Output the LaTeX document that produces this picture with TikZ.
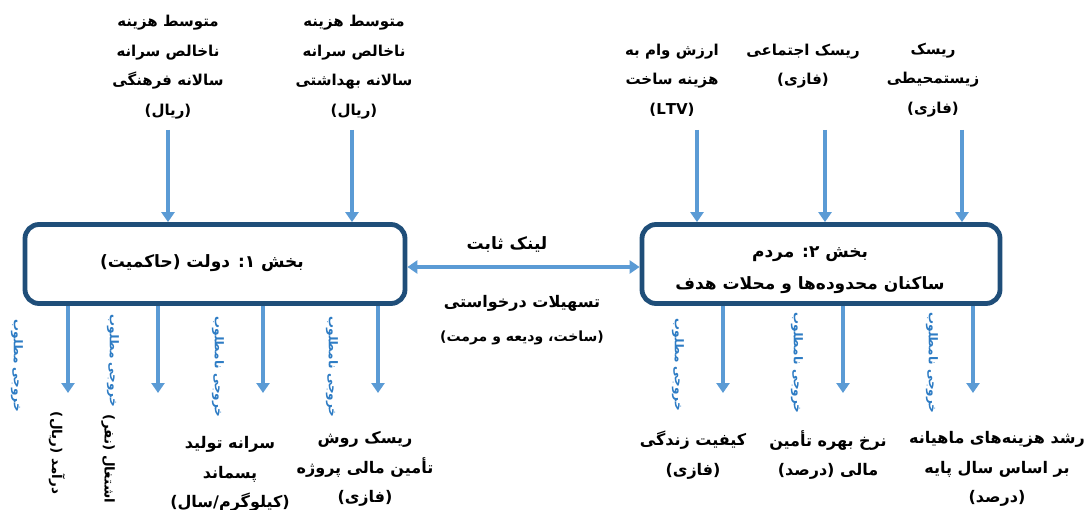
\documentclass[tikz,border=0pt]{standalone}
\usepackage{fontspec}
\TeXXeTstate=1
\newfontfamily\fa[Script=Arabic]{DejaVu Sans}
\usetikzlibrary{arrows.meta}
\newcommand\rl[1]{\beginR #1\endR}
\definecolor{boxc}{HTML}{1F4E79}
\definecolor{arrc}{HTML}{5B9BD5}
\definecolor{labc}{HTML}{2E7CC4}
\begin{document}
\begin{tikzpicture}[x=1pt,y=-1pt,
  sector/.style={draw=boxc, line width=4.8pt, rounded corners=14pt, fill=white, inner sep=0pt},
  stxt/.style={font=\fa\bfseries\fontsize{17}{32}\selectfont, align=center, inner sep=0pt},
  txt/.style={font=\fa\bfseries\fontsize{15}{29.5}\selectfont, align=center, inner sep=0pt},
  btxt/.style={txt, font=\fa\bfseries\fontsize{16}{29.5}\selectfont},
  rtxt/.style={txt, font=\fa\bfseries\fontsize{13.5}{16}\selectfont, rotate=-90},
  lab/.style={font=\fa\bfseries\fontsize{12}{14}\selectfont, text=labc, rotate=-90, inner sep=0pt},
  arr/.style={draw=arrc, line width=3.2pt, -{Triangle[width=13pt,length=10pt]}},
  darr/.style={draw=arrc, line width=3.2pt, {Triangle[width=13pt,length=10pt]}-{Triangle[width=13pt,length=10pt]}}]
\useasboundingbox (0,0) rectangle (1086,510);
% sectors
\node[sector, minimum width=380pt, minimum height=79pt] (gov) at (215,264) {};
\node[stxt] (govt) at (202,263) {\rl{بخش ۱: دولت (حاکمیت)}};
\node[sector, minimum width=358pt, minimum height=79pt] (ppl) at (821,264) {};
\node[stxt] (pplt) at (810,270) {\rl{بخش ۲: مردم}\\\rl{ساکنان محدوده^^^^200cها و محلات هدف}};
% link
\draw[darr] ([yshift=-3pt]gov.east) -- ([yshift=-3pt]ppl.west);
\node[txt, font=\fa\bfseries\fontsize{17}{20}\selectfont] (link) at (507,245) {\rl{لینک ثابت}};
\node[txt, font=\fa\bfseries\fontsize{16}{20}\selectfont] (fac) at (522,303) {\rl{تسهیلات درخواستی}};
\node[txt, font=\fa\bfseries\fontsize{14}{17}\selectfont] (fac2) at (522,338) {\rl{(ساخت، ودیعه و مرمت)}};
% top inputs
\node[txt] (i1) at (168,67) {\rl{متوسط هزینه}\\\rl{ناخالص سرانه}\\\rl{سالانه فرهنگی}\\\rl{(ریال)}};
\node[txt] (i2) at (354,67) {\rl{متوسط هزینه}\\\rl{ناخالص سرانه}\\\rl{سالانه بهداشتی}\\\rl{(ریال)}};
\node[txt] (i3) at (672,80) {\rl{ارزش وام به}\\\rl{هزینه ساخت}\\(LTV)};
\node[txt] (i4) at (803,66) {\rl{ریسک اجتماعی}\\\rl{(فازی)}};
\node[txt] (i5) at (933,80) {\rl{ریسک}\\\rl{زیستمحیطی}\\\rl{(فازی)}};
\coordinate (t1) at (168,130);
\coordinate (t2) at (352,130);
\coordinate (t3) at (697,130);
\coordinate (t4) at (825,130);
\coordinate (t5) at (962,130);
\draw[arr] (t1) -- (t1 |- gov.north);
\draw[arr] (t2) -- (t2 |- gov.north);
\draw[arr] (t3) -- (t3 |- ppl.north);
\draw[arr] (t4) -- (t4 |- ppl.north);
\draw[arr] (t5) -- (t5 |- ppl.north);
% bottom outputs, government
\coordinate (b1) at (68,393);
\coordinate (b2) at (158,393);
\coordinate (b3) at (263,393);
\coordinate (b4) at (378,393);
\draw[arr] (b1 |- gov.south) -- (b1);
\draw[arr] (b2 |- gov.south) -- (b2);
\draw[arr] (b3 |- gov.south) -- (b3);
\draw[arr] (b4 |- gov.south) -- (b4);
\node[lab] (l1) at (17,366) {\rl{خروجی مطلوب}};
\node[lab] (l2) at (113,361) {\rl{خروجی مطلوب}};
\node[lab] (l3) at (218,367) {\rl{خروجی نامطلوب}};
\node[lab] (l4) at (332,367) {\rl{خروجی نامطلوب}};
\node[rtxt] (o1) at (57,453) {\rl{درآمد (ریال)}};
\node[rtxt] (o2) at (108,459) {\rl{اشتغال (نفر)}};
\node[btxt] (o3) at (230,474) {\rl{سرانه تولید}\\\rl{پسماند}\\\rl{(کیلوگرم/سال)}};
\node[btxt] (o4) at (365,469) {\rl{ریسک روش}\\\rl{تأمین مالی پروژه}\\\rl{(فازی)}};
% bottom outputs, people
\coordinate (c1) at (723,393);
\coordinate (c2) at (843,393);
\coordinate (c3) at (973,393);
\draw[arr] (c1 |- ppl.south) -- (c1);
\draw[arr] (c2 |- ppl.south) -- (c2);
\draw[arr] (c3 |- ppl.south) -- (c3);
\node[lab] (l5) at (678,365) {\rl{خروجی مطلوب}};
\node[lab] (l6) at (797,363) {\rl{خروجی نامطلوب}};
\node[lab] (l7) at (932,363) {\rl{خروجی نامطلوب}};
\node[btxt] (p1) at (693,455) {\rl{کیفیت زندگی}\\\rl{(فازی)}};
\node[btxt] (p2) at (828,455) {\rl{نرخ بهره تأمین}\\\rl{مالی (درصد)}};
\node[btxt] (p3) at (997,469) {\rl{رشد هزینه^^^^200cهای ماهیانه}\\\rl{بر اساس سال پایه}\\\rl{(درصد)}};
\end{tikzpicture}
\end{document}
